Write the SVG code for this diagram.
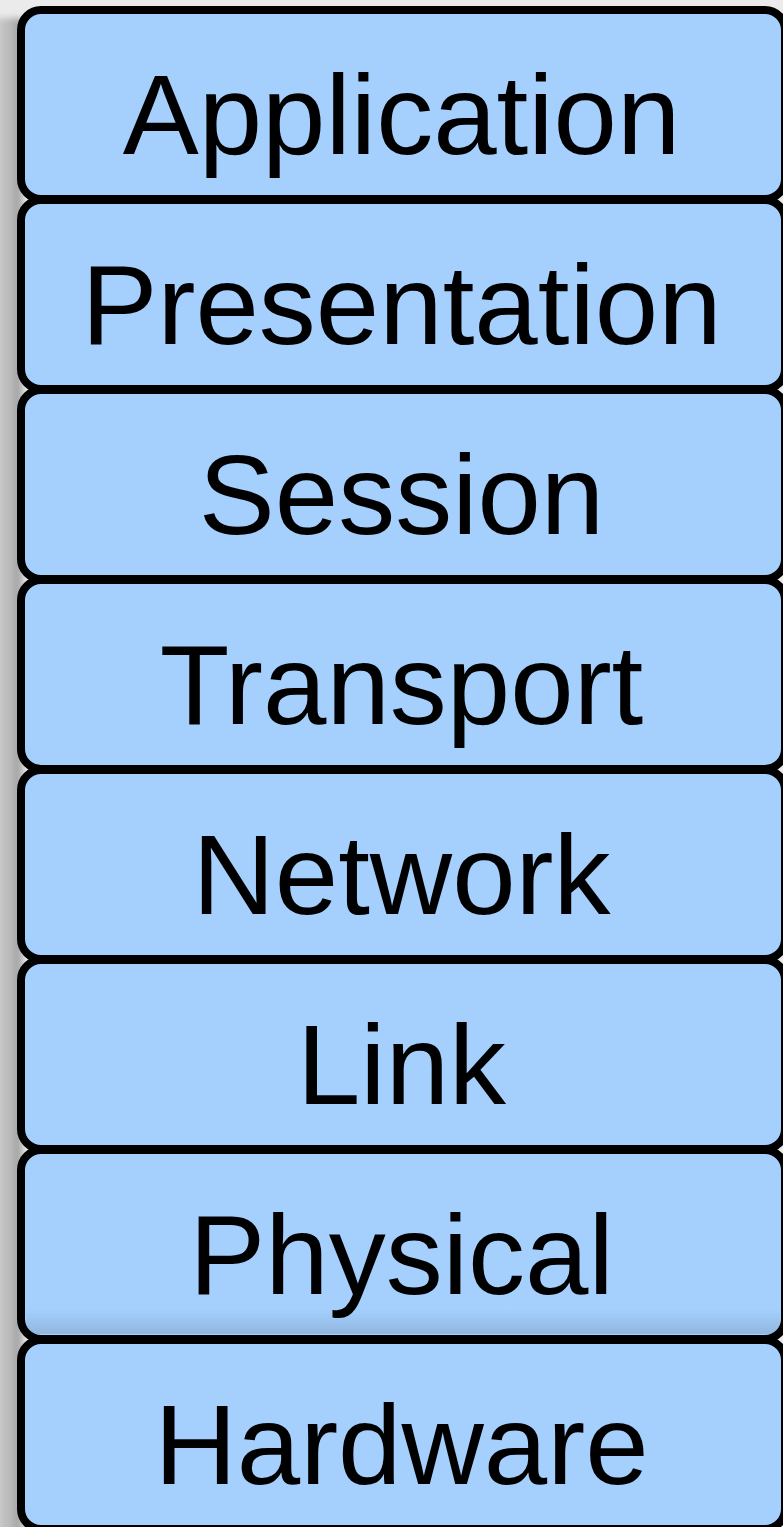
<svg xmlns="http://www.w3.org/2000/svg" width="783" height="1527" viewBox="0 0 783 1527">
  <defs>
    <linearGradient id="shadowGrad" x1="0" y1="0" x2="1" y2="0">
      <stop offset="0" stop-color="#cbcbcb"/>
      <stop offset="0.6" stop-color="#b8b8b8"/>
      <stop offset="1" stop-color="#969696"/>
    </linearGradient>
    <linearGradient id="bandGrad" x1="0" y1="0" x2="0" y2="1">
      <stop offset="0" stop-color="#000" stop-opacity="0"/>
      <stop offset="1" stop-color="#000" stop-opacity="0.12"/>
    </linearGradient>
    <filter id="blur" x="-0.5" y="-0.05" width="2" height="1.1">
      <feGaussianBlur stdDeviation="3"/>
    </filter>
    <style>
      .box { fill: #a5d0fe; stroke: #000; stroke-width: 8; }
      .lbl { font-family: "Liberation Sans", Arial, sans-serif; font-size: 114px; fill: #000; text-anchor: middle; }
    </style>
  </defs>
  <rect x="0" y="0" width="783" height="1527" fill="#ebebeb"/>
  <rect x="-4" y="18" width="26" height="1520" fill="url(#shadowGrad)" filter="url(#blur)"/>
  <g id="connectors"/>
  <g id="application"><rect class="box" x="21" y="10" width="764" height="189" rx="20"/><text class="lbl" x="401.5" y="153.5">Application</text></g>
  <g id="presentation"><rect class="box" x="21" y="200" width="764" height="189" rx="20"/><text class="lbl" x="401.5" y="343.5">Presentation</text></g>
  <g id="session"><rect class="box" x="21" y="390" width="764" height="189" rx="20"/><text class="lbl" x="401.5" y="533.5">Session</text></g>
  <g id="transport"><rect class="box" x="21" y="580" width="764" height="189" rx="20"/><text class="lbl" x="401.5" y="723.5">Transport</text></g>
  <g id="network"><rect class="box" x="21" y="770" width="764" height="189" rx="20"/><text class="lbl" x="401.5" y="913.5">Network</text></g>
  <g id="link"><rect class="box" x="21" y="960" width="764" height="189" rx="20"/><text class="lbl" x="401.5" y="1103.5">Link</text></g>
  <g id="physical"><rect class="box" x="21" y="1150" width="764" height="189" rx="20"/><rect x="26" y="1308" width="754" height="26" fill="url(#bandGrad)"/><text class="lbl" x="401.5" y="1293.5">Physical</text></g>
  <g id="hardware"><rect class="box" x="21" y="1340" width="764" height="189" rx="20"/><text class="lbl" x="401.5" y="1483.5">Hardware</text></g>
</svg>
